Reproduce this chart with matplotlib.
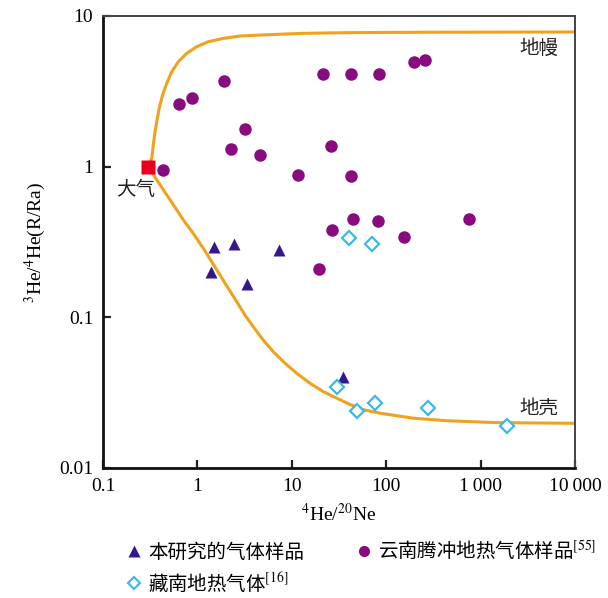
import matplotlib
matplotlib.use("Agg")
from matplotlib import pyplot as plt
from matplotlib.lines import Line2D

plt.rcParams['font.family'] = ['Liberation Serif', 'Noto Sans CJK SC', 'DejaVu Sans']
plt.rcParams['mathtext.fontset'] = 'stix'

# 本研究的气体样品
study_x = [1.51, 2.42, 7.4, 1.40, 3.35, 35.1]
study_y = [0.291, 0.305, 0.278, 0.199, 0.166, 0.0404]

# 云南腾冲地热气体样品
tc_x = [0.43, 0.64, 0.88, 1.9, 3.2, 2.27, 4.6, 11.6, 21.2, 42.4, 84.5, 197, 256,
        26, 42.4, 44.5, 81, 748, 26.4, 154, 19.6]
tc_y = [0.95, 2.6, 2.85, 3.7, 1.78, 1.31, 1.19, 0.88, 4.14, 4.14, 4.14, 4.92, 5.1,
        1.38, 0.867, 0.447, 0.438, 0.447, 0.38, 0.34, 0.209]

# 藏南地热气体
zn_x = [40.6, 70, 30.3, 49.4, 75.5, 275, 1918]
zn_y = [0.334, 0.306, 0.0347, 0.0239, 0.0271, 0.0249, 0.019]

# 大气
air_x = [0.3]
air_y = [1.0]

# mixing curves
mantle_x = [0.3, 0.328, 0.341, 0.356, 0.371, 0.394, 0.428, 0.473, 0.535, 0.628,
            0.771, 0.984, 1.30, 1.88, 2.83, 4.60, 12.2, 40, 300, 10000]
mantle_y = [1.0, 1.135, 1.39, 1.71, 1.99, 2.44, 2.99, 3.57, 4.26, 4.97,
            5.65, 6.25, 6.74, 7.10, 7.36, 7.47, 7.66, 7.75, 7.80, 7.83]
crust_x = [0.3, 0.71, 0.905, 1.155, 1.417, 1.735, 2.125, 2.61, 3.19, 3.91, 4.99,
           6.37, 8.47, 11.27, 15.6, 21.6, 29.9, 41.4, 57.2, 86, 194, 437, 1480, 10000]
crust_y = [1.0, 0.443, 0.360, 0.287, 0.234, 0.191, 0.1556, 0.127, 0.1035, 0.0866, 0.0706,
           0.0591, 0.0496, 0.0425, 0.0365, 0.0321, 0.0291, 0.0264, 0.0244, 0.0231,
           0.0214, 0.0206, 0.0200, 0.0198]

xticks = [0.1, 1, 10, 100, 1000, 10000]
xtick_labels = ['0.1', '1', '10', '100', '1\u2009000', '10\u2009000']
yticks = [0.01, 0.1, 1, 10]
ytick_labels = ['0.01', '0.1', '1', '10']

orange = '#F0A21E'
purple = '#8A0A80'
indigo = '#34178A'
cyan = '#3DB7E4'
red = '#E8001E'

fig = plt.figure(figsize=(6.08, 5.98), dpi=100)
ax = fig.add_axes([0.1694, 0.2174, 0.7763, 0.7559])

ax.plot(mantle_x, mantle_y, color=orange, lw=2.2, zorder=2, solid_joinstyle='round')
ax.plot(crust_x, crust_y, color=orange, lw=2.2, zorder=2, solid_joinstyle='round')

ax.plot(tc_x, tc_y, 'o', color=purple, ms=9, mec='none', zorder=3)
ax.plot(study_x, study_y, '^', color=indigo, ms=9, mec='none', zorder=4)
ax.plot(zn_x, zn_y, 'D', mfc='white', mec=cyan, mew=1.6, ms=7, zorder=4)
ax.plot(air_x, air_y, 's', color=red, ms=9.5, mec='none', zorder=5)

ax.set_xscale('log')
ax.set_yscale('log')
ax.set_xlim(0.1, 10000)
ax.set_ylim(0.01, 10)
ax.set_xticks(xticks)
ax.set_xticklabels(xtick_labels)
ax.set_yticks(yticks)
ax.set_yticklabels(ytick_labels)
ax.minorticks_off()
ax.tick_params(direction='in', length=6, width=1.6, labelsize=14, pad=7, color='#222222')

for side in ['left', 'bottom']:
    ax.spines[side].set_linewidth(2.0)
    ax.spines[side].set_color('#111111')
for side in ['top', 'right']:
    ax.spines[side].set_linewidth(1.4)
    ax.spines[side].set_color('#444444')

ax.set_xlabel('$^{4}$He/$^{20}$Ne', fontsize=14, labelpad=6)
ax.set_ylabel('$^{3}$He/$^{4}$He(R/Ra)', fontsize=14, labelpad=8)

cjk = ['Noto Sans CJK SC', 'DejaVu Sans']
ax.text(0.224, 0.70, '大气', family=cjk, fontsize=14, ha='center', va='center', color='#222222')
ax.text(4160, 6.1, '地幔', family=cjk, fontsize=14, ha='center', va='center', color='#222222')
ax.text(4160, 0.025, '地壳', family=cjk, fontsize=14, ha='center', va='center', color='#222222')

handles = [
    Line2D([], [], ls='none', marker='^', color=indigo, mec='none', ms=8),
    Line2D([], [], ls='none', marker='D', mfc='white', mec=cyan, mew=1.5, ms=6.5),
    Line2D([], [], ls='none', marker='o', color=purple, mec='none', ms=8),
]
labels = ['本研究的气体样品', '藏南地热气体$^{[16]}$', '云南腾冲地热气体样品$^{[55]}$']
fig.legend(handles, labels, ncol=2, loc='upper left', bbox_to_anchor=(0.205, 0.098),
           frameon=False, prop={'family': cjk, 'size': 14}, handletextpad=0.2,
           columnspacing=2.6, labelspacing=0.45, handlelength=1.0, borderaxespad=0,
           borderpad=0)

fig.savefig('out.png', dpi=100)
